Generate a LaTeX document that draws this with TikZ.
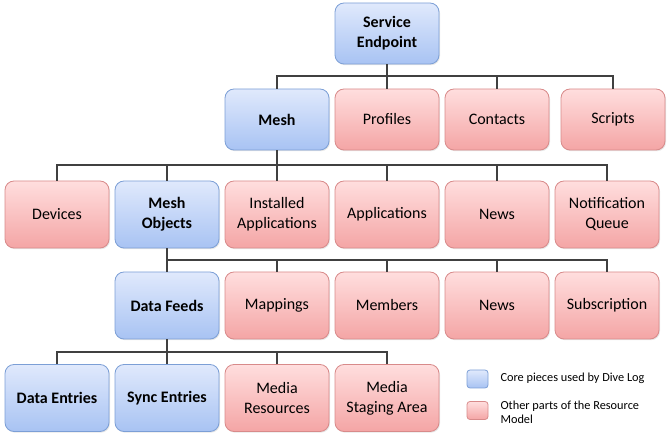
\documentclass[tikz,border=0pt]{standalone}
\usepackage{fontspec}
\setmainfont{Carlito}
\usetikzlibrary{shadows}
\definecolor{bluetop}{HTML}{E0E9FC}
\definecolor{bluebot}{HTML}{A8C3F3}
\definecolor{blueline}{HTML}{7C9FD6}
\definecolor{redtop}{HTML}{FFDEDE}
\definecolor{redbot}{HTML}{F4A5A5}
\definecolor{redline}{HTML}{D88A8A}
\definecolor{conn}{HTML}{404040}
\tikzset{
  box/.style={rounded corners=9pt, minimum width=104pt, align=center,
    font=\fontsize{16}{20}\selectfont, text=black, line width=0.8pt,
    drop shadow={opacity=0.2, shadow xshift=1pt, shadow yshift=-1.2pt}},
  core/.style={box, draw=blueline, top color=bluetop, bottom color=bluebot, font=\fontsize{16}{20}\selectfont\bfseries},
  other/.style={box, draw=redline, top color=redtop, bottom color=redbot},
  hA/.style={minimum height=61pt},
  hB/.style={minimum height=67pt},
  wire/.style={draw=conn, line width=1.2pt},
  leg/.style={rounded corners=3pt, minimum width=21pt, minimum height=18pt, line width=0.8pt},
  legtext/.style={anchor=west, align=left, font=\fontsize{12.3}{14}\selectfont}
}
\begin{document}
\begin{tikzpicture}[x=1pt,y=-1pt]
\useasboundingbox (0,0) rectangle (670,438);
% rows
\node[core,hA] (se) at (387,33.5) {Service\\Endpoint};
\node[core,hA] (mesh) at (277,119.5) {Mesh};
\node[other,hA] (prof) at (387,119.5) {Profiles};
\node[other,hA] (cont) at (497,119.5) {Contacts};
\node[other,hA] (scr) at (613,119.5) {Scripts};
\node[other,hB] (dev) at (57,214.5) {Devices};
\node[core,hB] (mo) at (167,214.5) {Mesh\\Objects};
\node[other,hB] (inst) at (277,214.5) {Installed\\Applications};
\node[other,hB] (apps) at (387,214.5) {Applications};
\node[other,hB] (news1) at (497,214.5) {News};
\node[other,hB] (nq) at (607,214.5) {Notification\\Queue};
\node[core,hB] (df) at (167,305.5) {Data Feeds};
\node[other,hB] (map) at (277,305.5) {Mappings};
\node[other,hB] (mem) at (387,305.5) {Members};
\node[other,hB] (news2) at (497,305.5) {News};
\node[other,hB] (sub) at (607,305.5) {Subscription};
\node[core,hB] (de) at (57,398) {Data Entries};
\node[core,hB] (sy) at (167,398) {Sync Entries};
\node[other,hB] (mr) at (277,398) {Media\\Resources};
\node[other,hB] (ms) at (387,398) {Media\\Staging Area};
% bus levels
\coordinate (y0) at (0,76);
\coordinate (y1) at (0,165);
\coordinate (y2) at (0,260);
\coordinate (y3) at (0,352);
% connectors level 0
\draw[wire] (se.south) -- (se.south |- y0);
\draw[wire] (mesh.north) |- (se.south |- y0) -| (scr.north);
\draw[wire] (prof.north) -- (prof.north |- y0);
\draw[wire] (cont.north) -- (cont.north |- y0);
% level 1
\draw[wire] (mesh.south) -- (mesh.south |- y1);
\draw[wire] (dev.north) |- (mesh.south |- y1) -| (nq.north);
\draw[wire] (mo.north) -- (mo.north |- y1);
\draw[wire] (inst.north) -- (inst.north |- y1);
\draw[wire] (apps.north) -- (apps.north |- y1);
\draw[wire] (news1.north) -- (news1.north |- y1);
% level 2
\draw[wire] (mo.south) -- (df.north);
\draw[wire] (mo.south |- y2) -| (sub.north);
\draw[wire] (map.north) -- (map.north |- y2);
\draw[wire] (mem.north) -- (mem.north |- y2);
\draw[wire] (news2.north) -- (news2.north |- y2);
% level 3
\draw[wire] (df.south) -- (sy.north);
\draw[wire] (de.north) |- (df.south |- y3) -| (ms.north);
\draw[wire] (mr.north) -- (mr.north |- y3);
% legend
\node[leg, draw=blueline, top color=bluetop, bottom color=bluebot] (lb) at (477.5,379) {};
\node[leg, draw=redline, top color=redtop, bottom color=redbot] (lr) at (477.5,410.5) {};
\node[legtext] (lbt) at (497,378) {Core pieces used by Dive Log};
\node[legtext] (lrt) at (497,412.5) {Other parts of the Resource\\Model};
\end{tikzpicture}
\end{document}
